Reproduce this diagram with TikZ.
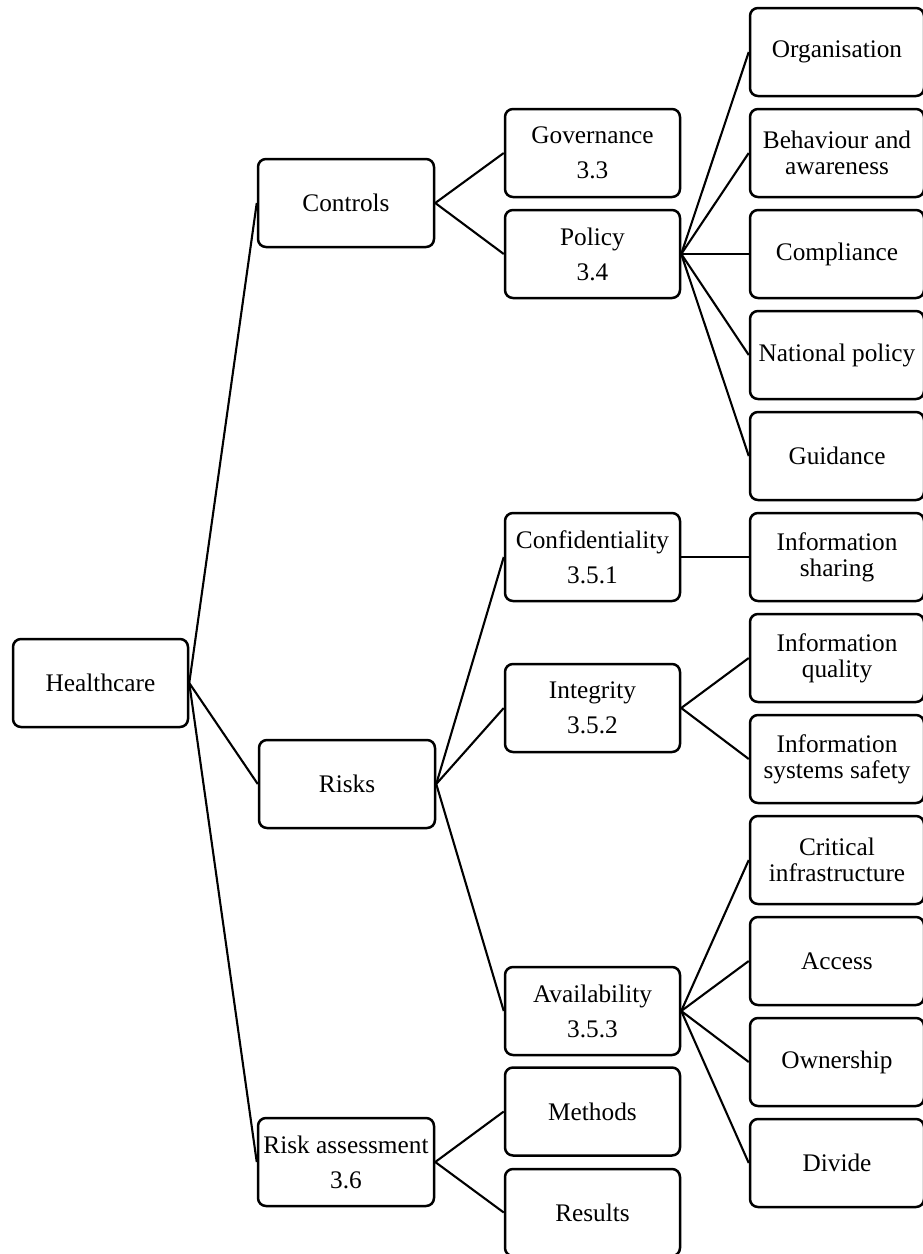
\documentclass[tikz,border=0pt]{standalone}
\usepackage{fontspec}
\setmainfont{Liberation Serif}
\begin{document}
\begin{tikzpicture}[x=1pt,y=-1pt,
  box/.style={draw, line width=2.5pt, rounded corners=8pt, minimum width=175pt,
    minimum height=88pt, inner sep=0pt, align=center,
    font=\fontsize{25.3}{26}\selectfont},
  rbox/.style={box, minimum width=174pt},
  link/.style={line width=2.1pt}]
\useasboundingbox (0,0) rectangle (922,1254);
% level 0
\node[box] (hc) at (100.5,683) {Healthcare};
% level 1
\node[box, minimum width=176pt] (controls) at (346,203) {Controls};
\node[box, minimum width=176pt] (risks) at (347,784) {Risks};
\node[box, minimum width=176pt] (ra) at (346,1162) {Risk assessment\\[9pt]3.6};
% level 2
\node[box] (gov) at (592.5,153) {Governance\\[9pt]3.3};
\node[box] (pol) at (592.5,254) {Policy\\[9pt]3.4};
\node[box] (conf) at (592.5,557) {Confidentiality\\[9pt]3.5.1};
\node[box] (integ) at (592.5,708) {Integrity\\[9pt]3.5.2};
\node[box] (avail) at (592.5,1011) {Availability\\[9pt]3.5.3};
\node[box] (meth) at (592.5,1111.5) {Methods};
\node[box, minimum height=87pt] (res) at (592.5,1212.5) {Results};
% level 3
\node[rbox] (org) at (837,52) {Organisation};
\node[rbox] (beh) at (837,153) {Behaviour and\\awareness};
\node[rbox] (comp) at (837,254) {Compliance};
\node[rbox] (nat) at (837,355) {National policy};
\node[rbox] (guid) at (837,456) {Guidance};
\node[rbox] (share) at (837,557) {Information\\sharing};
\node[rbox] (qual) at (837,658) {Information\\quality};
\node[rbox] (sys) at (837,759) {Information\\systems safety};
\node[rbox] (crit) at (837,860) {Critical\\infrastructure};
\node[rbox] (acc) at (837,961) {Access};
\node[rbox] (own) at (837,1062) {Ownership};
\node[rbox] (div) at (837,1163) {Divide};
% connectors
\draw[link] (hc.east) -- (controls.west);
\draw[link] (hc.east) -- (risks.west);
\draw[link] (hc.east) -- (ra.west);
\draw[link] (controls.east) -- (gov.west);
\draw[link] (controls.east) -- (pol.west);
\foreach \t in {org,beh,comp,nat,guid}
  \draw[link] (pol.east) -- (\t.west);
\draw[link] (risks.east) -- (conf.west);
\draw[link] (risks.east) -- (integ.west);
\draw[link] (risks.east) -- (avail.west);
\draw[link] (conf.east) -- (share.west);
\draw[link] (integ.east) -- (qual.west);
\draw[link] (integ.east) -- (sys.west);
\foreach \t in {crit,acc,own,div}
  \draw[link] (avail.east) -- (\t.west);
\draw[link] (ra.east) -- (meth.west);
\draw[link] (ra.east) -- (res.west);
\end{tikzpicture}
\end{document}
